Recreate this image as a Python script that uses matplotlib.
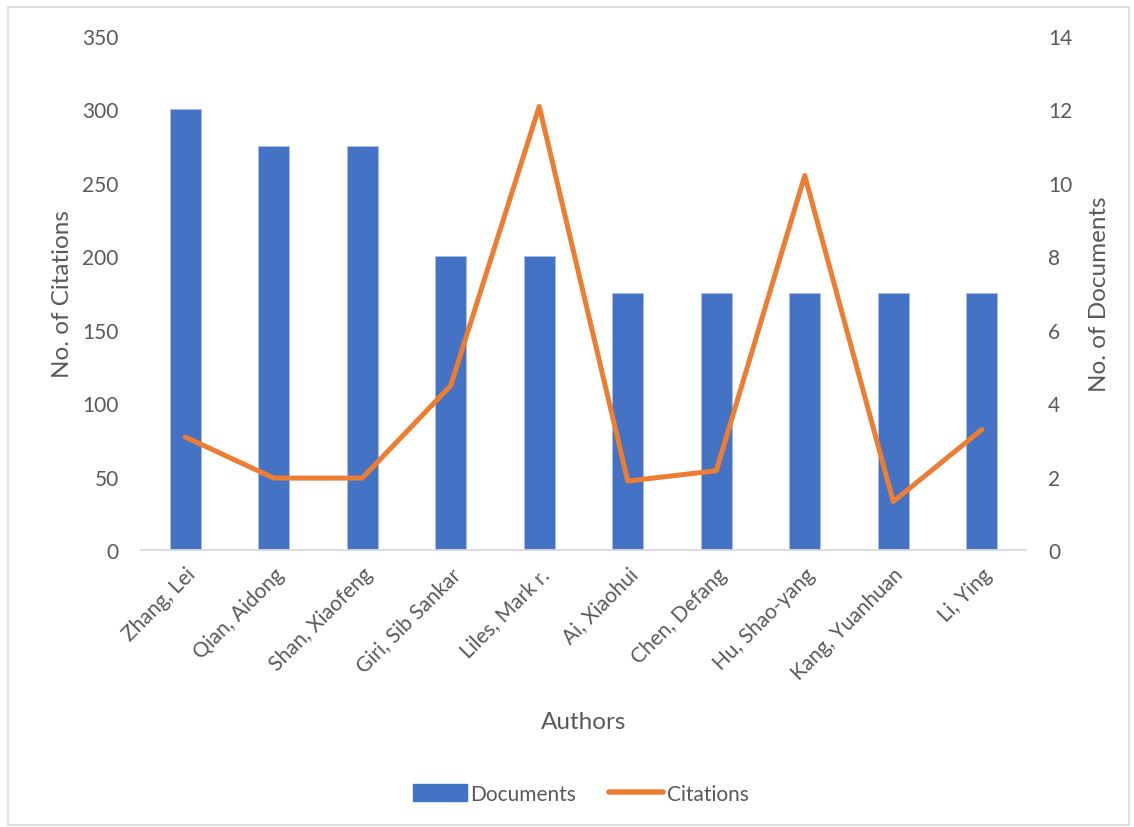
import matplotlib.pyplot as plt
from matplotlib.patches import Rectangle, Patch
from matplotlib.lines import Line2D

# data
authors = ['Zhang, Lei', 'Qian, Aidong', 'Shan, Xiaofeng', 'Giri, Sib Sankar', 'Liles, Mark r.',
           'Ai, Xiaohui', 'Chen, Defang', 'Hu, Shao-yang', 'Kang, Yuanhuan', 'Li, Ying']
documents = [12, 11, 11, 8, 8, 7, 7, 7, 7, 7]
citations = [77, 49, 49, 112, 302, 47, 54, 255, 33, 82]

plt.rcParams['font.family'] = ['Lato', 'DejaVu Sans']
grey = '#595959'

fig = plt.figure(figsize=(11.34, 8.28), dpi=100)
ax = fig.add_axes([0.1243, 0.3345, 0.7805, 0.6208])
ax2 = ax.twinx()

x = list(range(len(authors)))
ax2.bar(x, documents, width=0.35, color='#4472C4', edgecolor='#a9bfe6', linewidth=0.6)
ax.plot(x, citations, color='#ED7D31', lw=3.6, solid_capstyle='round', solid_joinstyle='round')

# line above the bars
ax.set_zorder(ax2.get_zorder() + 1)
ax.patch.set_visible(False)

ax.set_xlim(-0.5, len(authors) - 0.5)
ax.set_ylim(0, 350)
ax2.set_ylim(0, 14)
ax.set_yticks(range(0, 351, 50))
ax2.set_yticks(range(0, 15, 2))

for a in (ax, ax2):
    for s in a.spines.values():
        s.set_visible(False)
    a.tick_params(length=0, colors=grey, labelsize=15)
ax.spines['bottom'].set_visible(True)
ax.spines['bottom'].set_color('#D9D9D9')
ax.spines['bottom'].set_linewidth(1.3)
ax.tick_params(axis='y', pad=16)
ax2.tick_params(axis='y', pad=16)

ax.set_xticks(x)
ax.set_xticklabels(authors, rotation=45, ha='right', rotation_mode='anchor')
ax.tick_params(axis='x', pad=10)

ax.set_ylabel('No. of Citations', color=grey, fontsize=17.5, labelpad=7)
ax2.set_ylabel('No. of Documents', color=grey, fontsize=17.5, labelpad=12)
ax.set_xlabel('Authors', color=grey, fontsize=17.5, labelpad=20)

handles = [Patch(color='#4472C4'), Line2D([0], [0], color='#ED7D31', lw=4, solid_capstyle='round')]
fig.legend(handles, ['Documents', 'Citations'], loc='center', bbox_to_anchor=(0.512, 0.04),
           ncol=2, frameon=False, fontsize=15, labelcolor=grey,
           handlelength=2.6, handleheight=0.9, handletextpad=0.15, columnspacing=1.6)

# chart border
fig.patches.append(Rectangle((0.007, 0.003), 0.989, 0.987, transform=fig.transFigure,
                             fill=False, edgecolor='#D9D9D9', lw=1.2))

fig.savefig('out.png', dpi=100)
